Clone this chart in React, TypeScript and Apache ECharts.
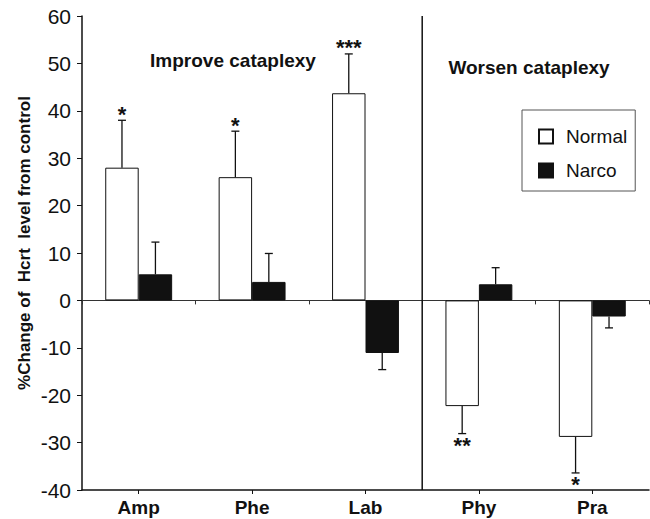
import React, { useEffect, useRef } from "react";
import * as echarts from "echarts";

const categories = ["Amp", "Phe", "Lab", "Phy", "Pra"];
const normalValues = [28, 26, 43.7, -22.3, -28.8];
const normalErrEnds = [38, 35.7, 52, -28.1, -36.4];
const normalStars = ["*", "*", "***", "**", "*"];
const narcoValues = [5.5, 3.9, -11.1, 3.4, -3.4];
const narcoErrEnds = [12.3, 9.9, -14.6, 6.9, -5.8];
const narcoStars = ["", "", "", "", ""];
const yTicks = { min: -40, max: 60, interval: 10 };

const FONT = "'Liberation Sans', Arial, sans-serif";
const BAR_FRAC = 0.295;

function errorSeries(name: string, values: number[], ends: number[], stars: string[], side: number) {
  return {
    name: name + "-err",
    type: "custom",
    xAxisIndex: 0,
    yAxisIndex: 0,
    z: 5,
    silent: true,
    data: values.map((v, i) => [i, v, ends[i]]),
    renderItem: (params: any, api: any) => {
      const idx = api.value(0);
      const val = api.value(1);
      const end = api.value(2);
      const base = api.coord([idx, val]);
      const tip = api.coord([idx, end]);
      const bw = api.size([1, 0])[0] * BAR_FRAC;
      const x = base[0] + (side * bw) / 2;
      const star = stars[params.dataIndex];
      const up = end >= val;
      const children: any[] = [
        { type: "line", shape: { x1: x, y1: base[1], x2: x, y2: tip[1] }, style: { stroke: "#111", lineWidth: 1.3 } },
        { type: "line", shape: { x1: x - 4, y1: tip[1], x2: x + 4, y2: tip[1] }, style: { stroke: "#111", lineWidth: 1.3 } },
      ];
      if (star) {
        children.push({
          type: "text",
          x: x,
          y: up ? tip[1] + 5 : tip[1] + 1,
          style: {
            text: star,
            fill: "#111",
            font: `bold 22px ${FONT}`,
            textAlign: "center",
            textVerticalAlign: up ? "bottom" : "top",
          },
        });
      }
      return { type: "group", children };
    },
  };
}

export default function App() {
  const ref = useRef<HTMLDivElement>(null);
  useEffect(() => {
    if (!ref.current) return;
    const chart = echarts.init(ref.current, null, { renderer: "svg" });
    chart.setOption({
      animation: false,
      backgroundColor: "#fff",
      grid: { left: 82, right: 1, top: 16, bottom: 29, containLabel: false },
      legend: {
        data: ["Normal", "Narco"],
        orient: "vertical",
        left: 522,
        top: 110,
        padding: [17, 8, 11, 16],
        itemWidth: 14,
        itemHeight: 14,
        itemGap: 15,
        icon: "rect",
        borderColor: "#555",
        borderWidth: 1,
        textStyle: { fontSize: 19, color: "#111", fontFamily: FONT, padding: [0, 0, 0, 8] },
      },
      xAxis: [
        {
          type: "category",
          data: categories,
          position: "bottom",
          axisLine: { onZero: false, lineStyle: { color: "#111", width: 1.5 } },
          axisTick: { show: true, alignWithLabel: true, length: 4, lineStyle: { color: "#111" } },
          axisLabel: { fontSize: 19, fontWeight: "bold", color: "#111", fontFamily: FONT, margin: 8 },
          splitLine: { show: false },
        },
        {
          type: "category",
          data: categories,
          position: "bottom",
          axisLine: { onZero: true, lineStyle: { color: "#333", width: 1 } },
          axisTick: { show: true, alignWithLabel: false, length: 4, lineStyle: { color: "#333" } },
          axisLabel: { show: false },
          splitLine: { show: false },
        },
      ],
      yAxis: {
        type: "value",
        min: yTicks.min,
        max: yTicks.max,
        interval: yTicks.interval,
        axisLine: { show: true, lineStyle: { color: "#111", width: 1.5 } },
        axisTick: { show: true, length: 5, lineStyle: { color: "#111" } },
        axisLabel: { fontSize: 21, color: "#111", fontFamily: FONT, margin: 11 },
        splitLine: { show: false },
      },
      series: [
        {
          name: "Normal",
          type: "bar",
          xAxisIndex: 0,
          data: normalValues,
          barWidth: BAR_FRAC * 100 + "%",
          barGap: "0%",
          itemStyle: { color: "#fff", borderColor: "#111", borderWidth: 1 },
        },
        {
          name: "Narco",
          type: "bar",
          xAxisIndex: 0,
          data: narcoValues,
          barWidth: BAR_FRAC * 100 + "%",
          barGap: "0%",
          itemStyle: { color: "#111", borderColor: "#111", borderWidth: 1 },
        },
        errorSeries("Normal", normalValues, normalErrEnds, normalStars, -1),
        errorSeries("Narco", narcoValues, narcoErrEnds, narcoStars, 1),
      ],
    });
    const xa = chart.convertToPixel({ xAxisIndex: 0 }, categories[2]) as number;
    const xb = chart.convertToPixel({ xAxisIndex: 0 }, categories[3]) as number;
    const sepX = (xa + xb) / 2;
    const yTop = chart.convertToPixel({ yAxisIndex: 0 }, yTicks.max) as number;
    const yBot = chart.convertToPixel({ yAxisIndex: 0 }, yTicks.min) as number;
    chart.setOption({
      graphic: [
        { type: "line", shape: { x1: sepX, y1: yTop, x2: sepX, y2: yBot }, style: { stroke: "#111", lineWidth: 1.5 }, z: 10 },
        {
          type: "text", x: 233, y: 60,
          style: { text: "Improve cataplexy", font: `bold 19px ${FONT}`, fill: "#111", textAlign: "center", textVerticalAlign: "middle" },
        },
        {
          type: "text", x: 529, y: 67,
          style: { text: "Worsen cataplexy", font: `bold 19px ${FONT}`, fill: "#111", textAlign: "center", textVerticalAlign: "middle" },
        },
        {
          type: "text", x: 24, y: 243, rotation: Math.PI / 2,
          style: { text: "%Change of  Hcrt  level from control", font: `bold 17px ${FONT}`, fill: "#111", textAlign: "center", textVerticalAlign: "middle" },
        },
      ],
    });
    return () => chart.dispose();
  }, []);
  return <div ref={ref} style={{ position: "fixed", left: 0, top: 0, width: 650, height: 519 }} />;
}
